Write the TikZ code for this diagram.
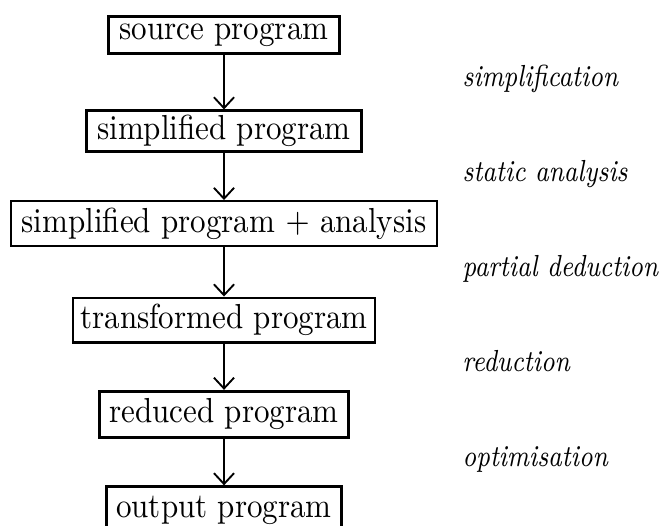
\documentclass[tikz,border=0pt]{standalone}
\usepackage{graphicx}
\usetikzlibrary{arrows.meta}
\newcommand{\vtxt}[1]{\scalebox{1}[1.12]{#1}}
\newcommand{\vlab}[1]{\scalebox{1}[1.22]{#1}}
\begin{document}
\begin{tikzpicture}[x=0.3225pt,y=-0.3225pt,
  stage/.style={draw, line width=0.9pt, inner sep=0pt, minimum height=13pt, font=\normalsize},
  thinstage/.style={stage, line width=0.65pt},
  flow/.style={line width=0.6pt, -{Straight Barb[length=3.5pt,width=6.5pt]}},
  lab/.style={anchor=base west, inner sep=0pt, font=\fontsize{8.05}{10}\selectfont\itshape}]
\useasboundingbox (0,0) rectangle (659,525);
\node[stage, minimum width=74.5pt, minimum height=12pt] (src) at (224,35) {\vtxt{source program}};
\node[stage, minimum width=88.7pt, minimum height=13pt] (simp) at (224,131) {\vtxt{simplified program}};
\node[thinstage, minimum width=137.5pt, minimum height=14.5pt] (sa) at (224,223.5) {\vtxt{simplified program $+$ analysis}};
\node[thinstage, minimum width=97.7pt, minimum height=14.5pt] (tr) at (224,320) {\vtxt{transformed program}};
\node[stage, minimum width=80.3pt, minimum height=15pt] (red) at (224,414.5) {\vtxt{reduced program}};
\node[stage, minimum width=75.8pt, minimum height=15pt] (out) at (224,510) {\vtxt{output program}};
\draw[flow] (src) -- (simp);
\draw[flow] (simp) -- (sa);
\draw[flow] (sa) -- (tr);
\draw[flow] (tr) -- (red);
\draw[flow] (red) -- (out);
\node[lab] (l1) at (462,86) {\vlab{simplification}};
\node[lab] (l2) at (462,181) {\vlab{static analysis}};
\node[lab] (l3) at (462,276) {\vlab{partial deduction}};
\node[lab] (l4) at (462,371) {\vlab{reduction}};
\node[lab] (l5) at (462,466) {\vlab{optimisation}};
\end{tikzpicture}
\end{document}
